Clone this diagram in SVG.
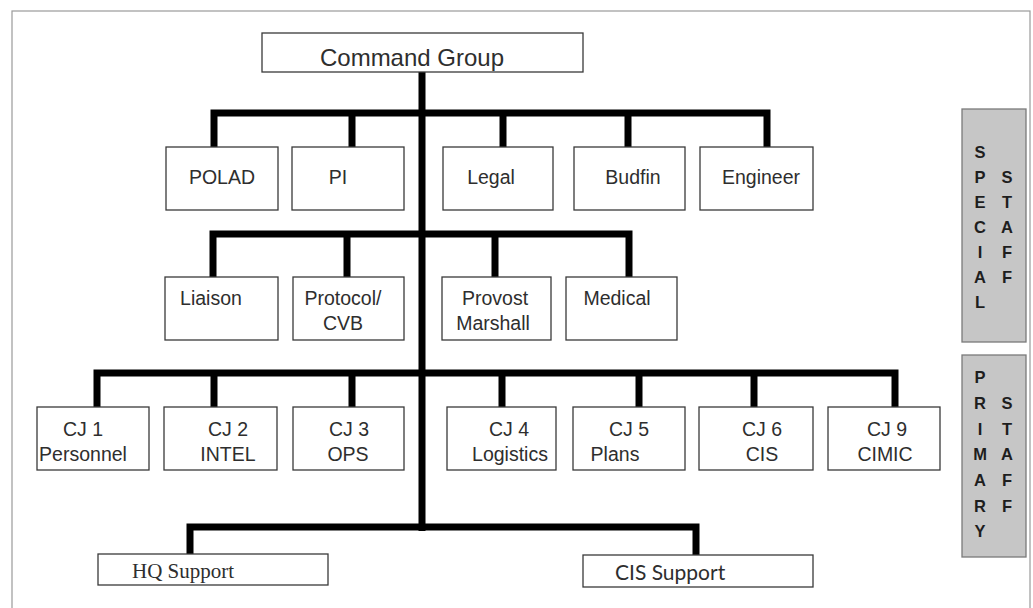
<svg xmlns="http://www.w3.org/2000/svg" width="1033" height="608" viewBox="0 0 1033 608">
  <style>
    .box { fill: #ffffff; stroke: #3a3a3a; stroke-width: 1.3; }
    .lbl { font-family: "Liberation Sans", Arial, sans-serif; font-size: 19.5px; fill: #2e2e2e; text-anchor: middle; }
    .big { font-size: 24px; }
    .serif { font-family: "Liberation Serif", "Times New Roman", serif; font-size: 21px; fill: #2e2e2e; }
    .hum { font-family: Lato, "Open Sans", sans-serif; font-size: 21px; fill: #2e2e2e; }
    .band { fill: #c6c6c6; stroke: #7a7a7a; stroke-width: 1.3; }
    .vert { font-family: "Liberation Sans", Arial, sans-serif; font-size: 16.5px; font-weight: bold; fill: #1e1e1e; text-anchor: middle; }
    .bus { fill: none; stroke: #000000; stroke-width: 7; stroke-linejoin: miter; stroke-linecap: butt; }
  </style>

  <rect x="0" y="0" width="1033" height="608" fill="#ffffff"/>
  <!-- page frame -->
  <rect x="12" y="11" width="1018" height="600" fill="none" stroke="#9a9a9a" stroke-width="1.2"/>

  <!-- connectors -->
  <g id="connectors">
    <line class="bus" x1="422" y1="72" x2="422" y2="531"/>
    <!-- special staff, upper row -->
    <path class="bus" d="M214 147 V113 H767 V147"/>
    <path class="bus" d="M352 113 V147 M503 113 V147 M628 113 V147"/>
    <!-- special staff, lower row -->
    <path class="bus" d="M213 277 V234 H629 V277"/>
    <path class="bus" d="M347 234 V277 M495 234 V277"/>
    <!-- primary staff row -->
    <path class="bus" d="M97 407 V373 H895 V407"/>
    <path class="bus" d="M214 373 V407 M352 373 V407 M502 373 V407 M639 373 V407 M754 373 V407"/>
    <!-- support row -->
    <path class="bus" d="M190 554 V527 H696 V555"/>
  </g>

  <!-- command -->
  <g id="command-group">
    <rect class="box" x="262" y="33" width="321" height="39"/>
    <text class="lbl big" x="412" y="66">Command Group</text>
  </g>

  <!-- special staff, upper row -->
  <g id="polad">
    <rect class="box" x="166" y="147" width="112" height="63"/>
    <text class="lbl" x="222" y="184">POLAD</text>
  </g>
  <g id="pi">
    <rect class="box" x="292" y="147" width="112" height="63"/>
    <text class="lbl" x="338" y="184">PI</text>
  </g>
  <g id="legal">
    <rect class="box" x="443" y="147" width="110" height="63"/>
    <text class="lbl" x="491" y="184">Legal</text>
  </g>
  <g id="budfin">
    <rect class="box" x="574" y="147" width="111" height="63"/>
    <text class="lbl" x="633" y="184">Budfin</text>
  </g>
  <g id="engineer">
    <rect class="box" x="700" y="147" width="113" height="63"/>
    <text class="lbl" x="761" y="184">Engineer</text>
  </g>

  <!-- special staff, lower row -->
  <g id="liaison">
    <rect class="box" x="165" y="277" width="113" height="63"/>
    <text class="lbl" x="211" y="305">Liaison</text>
  </g>
  <g id="protocol">
    <rect class="box" x="293" y="277" width="111" height="63"/>
    <text class="lbl" x="343" y="305">Protocol/</text>
    <text class="lbl" x="343" y="330">CVB</text>
  </g>
  <g id="provost-marshall">
    <rect class="box" x="442" y="277" width="109" height="63"/>
    <text class="lbl" x="495" y="305">Provost</text>
    <text class="lbl" x="493" y="330">Marshall</text>
  </g>
  <g id="medical">
    <rect class="box" x="566" y="277" width="111" height="63"/>
    <text class="lbl" x="617" y="305">Medical</text>
  </g>

  <!-- primary staff -->
  <g id="cj1">
    <rect class="box" x="37" y="407" width="112" height="63"/>
    <text class="lbl" x="83" y="436">CJ 1</text>
    <text class="lbl" x="83" y="461">Personnel</text>
  </g>
  <g id="cj2">
    <rect class="box" x="164" y="407" width="113" height="63"/>
    <text class="lbl" x="228" y="436">CJ 2</text>
    <text class="lbl" x="228" y="461">INTEL</text>
  </g>
  <g id="cj3">
    <rect class="box" x="293" y="407" width="111" height="63"/>
    <text class="lbl" x="349" y="436">CJ 3</text>
    <text class="lbl" x="348" y="461">OPS</text>
  </g>
  <g id="cj4">
    <rect class="box" x="447" y="407" width="109" height="63"/>
    <text class="lbl" x="509" y="436">CJ 4</text>
    <text class="lbl" x="510" y="461">Logistics</text>
  </g>
  <g id="cj5">
    <rect class="box" x="573" y="407" width="112" height="63"/>
    <text class="lbl" x="629" y="436">CJ 5</text>
    <text class="lbl" x="615" y="461">Plans</text>
  </g>
  <g id="cj6">
    <rect class="box" x="699" y="407" width="114" height="63"/>
    <text class="lbl" x="762" y="436">CJ 6</text>
    <text class="lbl" x="762" y="461">CIS</text>
  </g>
  <g id="cj9">
    <rect class="box" x="828" y="407" width="112" height="63"/>
    <text class="lbl" x="887" y="436">CJ 9</text>
    <text class="lbl" x="885" y="461">CIMIC</text>
  </g>

  <!-- support -->
  <g id="hq-support">
    <rect class="box" x="98" y="554" width="230" height="31"/>
    <text class="serif" x="132" y="578">HQ Support</text>
  </g>
  <g id="cis-support">
    <rect class="box" x="583" y="555" width="230" height="32"/>
    <text class="hum" x="615" y="580">CIS Support</text>
  </g>

  <!-- side bands -->
  <g id="special-staff">
    <rect class="band" x="962" y="109" width="64" height="233"/>
    <text class="vert" x="980" y="158">S</text>
    <text class="vert" x="980" y="183">P</text>
    <text class="vert" x="980" y="208">E</text>
    <text class="vert" x="980" y="233">C</text>
    <text class="vert" x="980" y="258">I</text>
    <text class="vert" x="980" y="283">A</text>
    <text class="vert" x="980" y="308">L</text>
    <text class="vert" x="1007" y="183">S</text>
    <text class="vert" x="1007" y="208">T</text>
    <text class="vert" x="1007" y="233">A</text>
    <text class="vert" x="1007" y="258">F</text>
    <text class="vert" x="1007" y="283">F</text>
  </g>
  <g id="primary-staff">
    <rect class="band" x="962" y="355" width="64" height="202"/>
    <text class="vert" x="980" y="383">P</text>
    <text class="vert" x="980" y="408.5">R</text>
    <text class="vert" x="980" y="434.5">I</text>
    <text class="vert" x="980" y="460">M</text>
    <text class="vert" x="980" y="485.5">A</text>
    <text class="vert" x="980" y="511.5">R</text>
    <text class="vert" x="980" y="537">Y</text>
    <text class="vert" x="1007" y="408.5">S</text>
    <text class="vert" x="1007" y="434.5">T</text>
    <text class="vert" x="1007" y="460">A</text>
    <text class="vert" x="1007" y="485.5">F</text>
    <text class="vert" x="1007" y="511.5">F</text>
  </g>
</svg>
